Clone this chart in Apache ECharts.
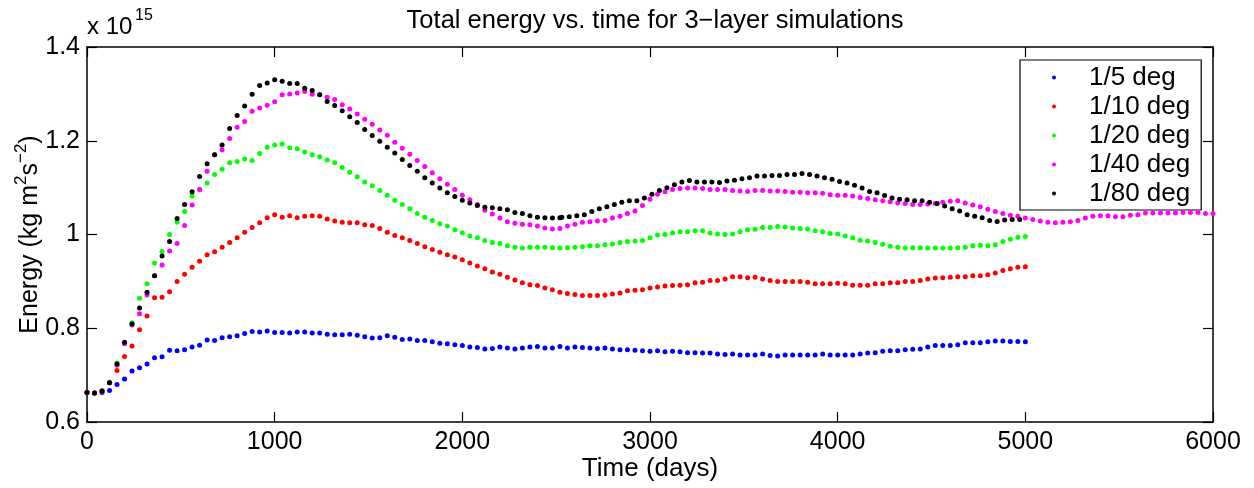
<!DOCTYPE html>
<html><head><meta charset="utf-8">
<script src="https://cdn.jsdelivr.net/npm/echarts@6/dist/echarts.min.js"></script>
<style>html,body{margin:0;padding:0;background:#fff}#c{width:1254px;height:488px}</style>
</head><body><div id="c"></div>
<script>
const FONT = '"Liberation Sans", Arial, Helvetica, sans-serif';
const titleText = 'Total energy vs. time for 3\u2212layer simulations';
const xName = 'Time (days)';
const seriesNames = ['1/5 deg', '1/10 deg', '1/20 deg', '1/40 deg', '1/80 deg'];
const colors = ['#0000ff', '#ff0000', '#00ff00', '#ff00ff', '#000000'];
const xTicks = [0, 1000, 2000, 3000, 4000, 5000, 6000];
const yTicks = [0.6, 0.8, 1.0, 1.2, 1.4];
const stepDays = 40;          // output interval (days)
const blackStartA = 0;        // 1/80 deg, first segment start day
const blackStartB = 2530;     // 1/80 deg, restart segment start day

// values in units of 1e15 kg m^2 s^-2, one every 40 days from day 0
const blue = [
0.663,0.662,0.663,0.667,0.680,0.692,0.709,0.716,0.724,0.737,0.739,0.753,0.752,0.754,0.760,0.764,0.775,0.774,0.780,0.782,0.784,0.789,0.793,0.792,0.794,0.791,
0.791,0.790,0.792,0.792,0.790,0.790,0.787,0.786,0.786,0.787,0.785,0.782,0.779,0.780,0.784,0.781,0.776,0.777,0.774,0.774,0.771,0.768,0.767,0.765,0.763,
0.760,0.759,0.756,0.757,0.760,0.758,0.756,0.758,0.760,0.761,0.758,0.758,0.761,0.758,0.760,0.759,0.758,0.757,0.758,0.756,0.754,0.754,0.753,0.752,0.751,
0.752,0.750,0.751,0.750,0.748,0.748,0.747,0.747,0.745,0.744,0.745,0.743,0.743,0.743,0.745,0.742,0.741,0.743,0.743,0.743,0.743,0.743,0.745,0.743,0.743,
0.743,0.743,0.745,0.747,0.748,0.751,0.752,0.752,0.754,0.755,0.756,0.760,0.763,0.763,0.763,0.765,0.769,0.769,0.769,0.771,0.773,0.773,0.772,0.772,0.771];
const red = [
0.663,0.662,0.666,0.684,0.710,0.740,0.762,0.797,0.826,0.865,0.866,0.878,0.900,0.915,0.930,0.943,0.957,0.963,0.973,0.983,0.993,1.005,1.015,1.025,1.036,1.042,
1.037,1.040,1.036,1.039,1.040,1.039,1.033,1.029,1.026,1.025,1.025,1.021,1.019,1.013,1.005,0.998,0.993,0.987,0.981,0.974,0.968,0.962,0.957,0.952,0.946,
0.939,0.933,0.927,0.920,0.915,0.909,0.903,0.897,0.893,0.891,0.886,0.882,0.877,0.874,0.872,0.870,0.870,0.870,0.871,0.873,0.875,0.880,0.881,0.882,0.886,
0.888,0.890,0.891,0.892,0.893,0.897,0.898,0.902,0.902,0.905,0.910,0.910,0.908,0.909,0.905,0.902,0.900,0.900,0.900,0.900,0.898,0.895,0.895,0.895,0.896,
0.895,0.892,0.892,0.892,0.895,0.895,0.897,0.897,0.900,0.900,0.902,0.905,0.907,0.908,0.909,0.910,0.910,0.912,0.912,0.914,0.918,0.923,0.927,0.930,0.931];
const green = [
0.663,0.662,0.666,0.685,0.726,0.768,0.812,0.864,0.895,0.939,0.964,1.000,1.026,1.049,1.082,1.096,1.110,1.128,1.139,1.153,1.156,1.161,1.158,1.173,1.186,1.191,
1.193,1.185,1.183,1.176,1.170,1.166,1.159,1.153,1.143,1.133,1.123,1.112,1.104,1.094,1.084,1.073,1.064,1.055,1.045,1.037,1.030,1.023,1.018,1.010,1.004,
0.997,0.993,0.987,0.983,0.981,0.976,0.973,0.971,0.973,0.973,0.973,0.972,0.971,0.972,0.973,0.974,0.976,0.976,0.978,0.980,0.983,0.985,0.986,0.987,0.993,
0.999,1.000,1.003,1.006,1.006,1.008,1.008,1.003,1.001,1.000,1.001,1.006,1.010,1.011,1.015,1.015,1.017,1.016,1.014,1.013,1.012,1.008,1.006,1.002,1.001,
0.997,0.993,0.988,0.986,0.983,0.979,0.975,0.973,0.971,0.972,0.972,0.971,0.971,0.971,0.971,0.972,0.973,0.976,0.977,0.976,0.978,0.985,0.990,0.994,0.996];
const magenta = [
0.663,0.662,0.666,0.684,0.721,0.767,0.807,0.831,0.871,0.912,0.935,0.965,0.981,1.019,1.063,1.096,1.135,1.170,1.181,1.205,1.229,1.241,1.263,1.270,1.276,1.283,
1.298,1.300,1.302,1.305,1.299,1.298,1.293,1.288,1.277,1.268,1.257,1.246,1.235,1.223,1.212,1.197,1.184,1.171,1.158,1.145,1.132,1.119,1.107,1.096,1.084,
1.074,1.064,1.052,1.044,1.035,1.027,1.024,1.022,1.021,1.018,1.014,1.012,1.013,1.018,1.022,1.026,1.027,1.029,1.030,1.035,1.039,1.045,1.050,1.062,1.075,
1.086,1.091,1.096,1.098,1.099,1.099,1.098,1.096,1.096,1.096,1.094,1.093,1.092,1.094,1.094,1.093,1.093,1.092,1.090,1.090,1.089,1.089,1.088,1.085,1.084,
1.084,1.082,1.079,1.077,1.074,1.072,1.070,1.067,1.066,1.064,1.064,1.065,1.066,1.069,1.071,1.072,1.067,1.063,1.059,1.054,1.049,1.045,1.041,1.039,1.035,
1.032,1.029,1.026,1.025,1.026,1.027,1.030,1.035,1.039,1.040,1.040,1.038,1.038,1.041,1.042,1.046,1.046,1.046,1.046,1.046,1.047,1.047,1.047,1.045,1.045];
// 1/80 deg: days 0..2520, then restart segment days 2530..4970
const blackA = [
0.663,0.662,0.666,0.684,0.724,0.770,0.809,0.843,0.877,0.912,0.954,0.985,1.034,1.064,1.091,1.124,1.151,1.170,1.191,1.226,1.254,1.274,1.299,1.318,1.323,1.330,
1.327,1.322,1.322,1.312,1.307,1.298,1.284,1.275,1.264,1.251,1.239,1.224,1.211,1.199,1.186,1.174,1.160,1.147,1.135,1.121,1.110,1.099,1.089,1.081,1.073,
1.067,1.062,1.058,1.057,1.055,1.053,1.047,1.045,1.040,1.037,1.036,1.035,1.036];
const blackB = [
1.037,1.038,1.040,1.042,1.049,1.055,1.059,1.064,1.069,1.072,1.072,1.078,1.086,
1.094,1.100,1.106,1.112,1.115,1.112,1.112,1.112,1.111,1.114,1.116,1.119,1.121,1.125,1.125,1.126,1.126,1.128,1.128,1.130,1.128,1.125,1.121,1.118,1.113,
1.110,1.105,1.099,1.092,1.089,1.083,1.078,1.075,1.074,1.072,1.072,1.069,1.066,1.061,1.055,1.050,1.042,1.039,1.036,1.030,1.028,1.031,1.032,1.032];

function pairs(start, vals) { return vals.map((v, i) => [start + i * stepDays, v]); }
const seriesData = [
  pairs(0, blue), pairs(0, red), pairs(0, green), pairs(0, magenta),
  pairs(blackStartA, blackA).concat(pairs(blackStartB, blackB))
];

const chart = echarts.init(document.getElementById('c'), null, { renderer: 'canvas' });
const axLine = { show: true, onZero: false, lineStyle: { color: '#000', width: 1.5 } };
const axTick = { show: true, inside: true, length: 10, lineStyle: { color: '#000', width: 1.2 } };
chart.setOption({
  animation: false,
  backgroundColor: '#fff',
  textStyle: { fontFamily: FONT, color: '#000' },
  grid: { left: 87, right: 41, top: 47, bottom: 66, containLabel: false, outerBoundsMode: 'none' },
  xAxis: [
    { type: 'value', position: 'bottom', min: xTicks[0], max: xTicks[xTicks.length - 1], interval: 1000,
      axisLine: axLine, axisTick: axTick, splitLine: { show: false },
      axisLabel: { color: '#000', fontSize: 25, fontFamily: FONT, margin: 8, formatter: v => String(v) },
      name: xName, nameLocation: 'middle', nameGap: 34, nameMoveOverlap: false,
      nameTextStyle: { color: '#000', fontSize: 26, fontFamily: FONT } },
    { type: 'value', position: 'top', min: xTicks[0], max: xTicks[xTicks.length - 1], interval: 1000,
      axisLine: axLine, axisTick: axTick, splitLine: { show: false }, axisLabel: { show: false } }
  ],
  yAxis: [
    { type: 'value', position: 'left', min: yTicks[0], max: yTicks[yTicks.length - 1], interval: 0.2,
      axisLine: axLine, axisTick: axTick, splitLine: { show: false },
      axisLabel: { color: '#000', fontSize: 25, fontFamily: FONT, margin: 7, formatter: v => String(+v.toFixed(1)) },
      name: '{a|Energy (kg m}{s|2}{a|s}{s|\u22122}{a|)}', nameLocation: 'middle', nameGap: 40, nameMoveOverlap: false,
      nameTextStyle: { rich: {
        a: { fontSize: 25, fontFamily: FONT, color: '#000', lineHeight: 34 },
        s: { fontSize: 17, fontFamily: FONT, color: '#000', verticalAlign: 'top', lineHeight: 20 } } } },
    { type: 'value', position: 'right', min: yTicks[0], max: yTicks[yTicks.length - 1], interval: 0.2,
      axisLine: axLine, axisTick: axTick, splitLine: { show: false }, axisLabel: { show: false } }
  ],
  legend: {
    orient: 'vertical', left: 1020, top: 60, padding: [3, 11, 2, 32],
    itemWidth: 4, itemHeight: 4, itemGap: 0, icon: 'circle',
    backgroundColor: '#fff', borderColor: '#000', borderWidth: 1.2, borderRadius: 0,
    selectedMode: false,
    textStyle: { color: '#000', fontSize: 26, fontFamily: FONT, lineHeight: 29, padding: [0, 0, 0, 28] },
    data: seriesNames
  },
  graphic: [
    { type: 'text', x: 655, y: 21, style: { text: titleText, fill: '#000', font: '25.5px ' + FONT, align: 'center', verticalAlign: 'middle' } },
    { type: 'text', x: 87, y: 27, style: { text: 'x 10', fill: '#000', font: '24px ' + FONT, align: 'left', verticalAlign: 'middle' } },
    { type: 'text', x: 135, y: 16, style: { text: '15', fill: '#000', font: '16px ' + FONT, align: 'left', verticalAlign: 'middle' } }
  ],
  series: seriesNames.map((n, i) => ({
    name: n, type: 'scatter', xAxisIndex: 0, yAxisIndex: 0,
    symbol: 'circle', symbolSize: 5, itemStyle: { color: colors[i], opacity: 1 },
    data: seriesData[i], z: 2 + i
  }))
});
</script></body></html>
